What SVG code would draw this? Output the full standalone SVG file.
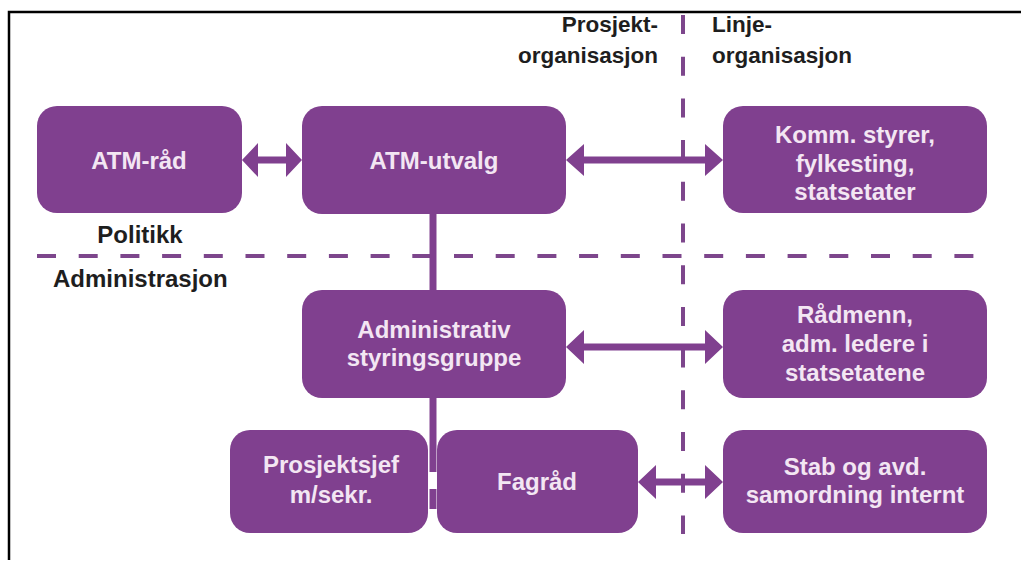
<svg xmlns="http://www.w3.org/2000/svg" width="1021" height="561" viewBox="0 0 1021 561">
<style>
.box{fill:#80408f}
.bt{font-family:"Liberation Sans",Arial,sans-serif;font-weight:bold;font-size:24px;fill:#f3e6f3;text-anchor:middle}
.lbl{font-family:"Liberation Sans",Arial,sans-serif;font-weight:bold;font-size:24px;fill:#1e1e1e}
.hdr{font-family:"Liberation Sans",Arial,sans-serif;font-weight:bold;font-size:22.5px;fill:#1e1e1e}
.dash{stroke:#7d468c;stroke-width:4;fill:none;stroke-dasharray:19 22.7}
.arr{fill:#80408f}
.ln{stroke:#80408f;stroke-width:7;fill:none}
</style>
<rect x="0" y="0" width="1021" height="561" fill="#ffffff"/>
<path d="M9,560 L9,12 L1021,12" stroke="#000" stroke-width="2.5" fill="none"/>

<g id="dividers">
<line class="dash" x1="683" y1="15" x2="683" y2="534"/>
<line class="dash" x1="37" y1="256" x2="975" y2="256"/>
</g>

<g id="labels">
<text class="hdr" x="658" y="32" text-anchor="end">Prosjekt-</text>
<text class="hdr" x="658" y="63" text-anchor="end">organisasjon</text>
<text class="hdr" x="712" y="32">Linje-</text>
<text class="hdr" x="712" y="63">organisasjon</text>
<text class="lbl" x="140" y="243" text-anchor="middle">Politikk</text>
<text class="lbl" x="53" y="287">Administrasjon</text>
</g>

<g id="connectors">
<line class="ln" x1="433" y1="212" x2="433" y2="292"/>
<line class="ln" x1="433" y1="396" x2="433" y2="472"/>
<line class="ln" x1="433" y1="489" x2="433" y2="509"/>
<path class="arr" d="M242,160 L258,143 L258,156.5 L286,156.5 L286,143 L302,160 L286,177 L286,163.5 L258,163.5 L258,177 Z"/>
<path class="arr" d="M566,160 L584,144 L584,156.5 L705,156.5 L705,144 L723,160 L705,176 L705,163.5 L584,163.5 L584,176 Z"/>
<path class="arr" d="M566,347 L584,330 L584,343.5 L705,343.5 L705,330 L723,347 L705,364 L705,350.5 L584,350.5 L584,364 Z"/>
<path class="arr" d="M638,482 L656,465 L656,478.5 L705,478.5 L705,465 L723,482 L705,499 L705,485.5 L656,485.5 L656,499 Z"/>
</g>

<g id="atm-rad">
<rect class="box" x="37" y="106" width="205" height="107" rx="20"/>
<text class="bt" x="139" y="169">ATM-råd</text>
</g>

<g id="atm-utvalg">
<rect class="box" x="302" y="106" width="264" height="108" rx="20"/>
<text class="bt" x="434" y="169">ATM-utvalg</text>
</g>

<g id="komm">
<rect class="box" x="723" y="106" width="264" height="107" rx="20"/>
<text class="bt" x="855" y="143">Komm. styrer,</text>
<text class="bt" x="855" y="172">fylkesting,</text>
<text class="bt" x="855" y="200">statsetater</text>
</g>

<g id="admin">
<rect class="box" x="302" y="290" width="264" height="108" rx="20"/>
<text class="bt" x="434" y="338">Administrativ</text>
<text class="bt" x="434" y="366">styringsgruppe</text>
</g>

<g id="radmenn">
<rect class="box" x="723" y="290" width="264" height="108" rx="20"/>
<text class="bt" x="855" y="323">Rådmenn,</text>
<text class="bt" x="855" y="352">adm. ledere i</text>
<text class="bt" x="855" y="381">statsetatene</text>
</g>

<g id="prosjektsjef">
<rect class="box" x="230" y="430" width="198" height="103" rx="20"/>
<text class="bt" x="331" y="473">Prosjektsjef</text>
<text class="bt" x="331" y="503">m/sekr.</text>
</g>

<g id="fagrad">
<rect class="box" x="437" y="430" width="201" height="103" rx="20"/>
<text class="bt" x="537" y="490">Fagråd</text>
</g>

<g id="stab">
<rect class="box" x="723" y="430" width="264" height="103" rx="20"/>
<text class="bt" x="855" y="475">Stab og avd.</text>
<text class="bt" x="855" y="503">samordning internt</text>
</g>
</svg>
